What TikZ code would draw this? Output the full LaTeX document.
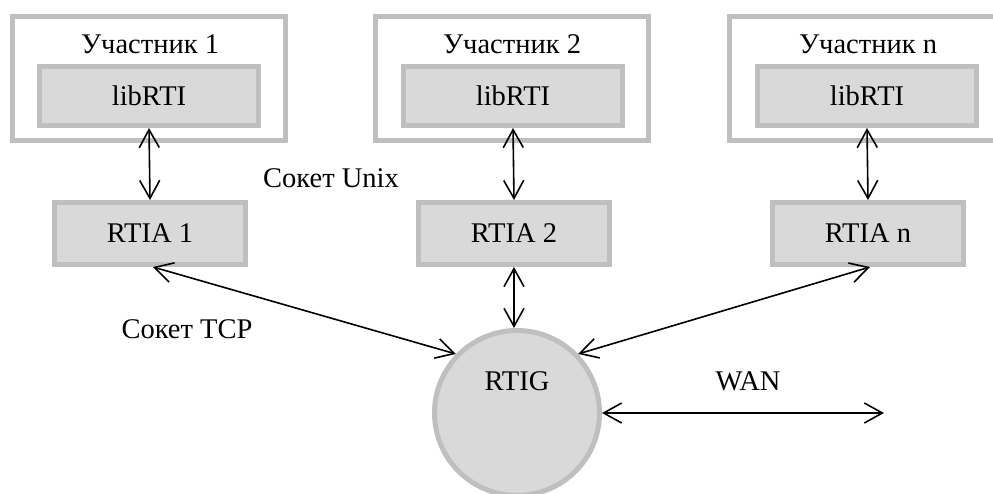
\documentclass[tikz,border=0pt]{standalone}
\usepackage{fontspec}
\setmainfont{Liberation Serif}
\newfontfamily\timesfont{Liberation Serif}
\usetikzlibrary{arrows.meta}
\definecolor{bordergray}{HTML}{BFBFBF}
\definecolor{fillgray}{HTML}{D9D9D9}
\begin{document}
\begin{tikzpicture}[x=1pt,y=-1pt,
  every node/.style={font=\timesfont\fontsize{28.5}{34}\selectfont},
  outerbox/.style={draw=bordergray, line width=5pt, minimum width=273pt, minimum height=124.5pt, inner sep=0pt},
  libbox/.style={draw=bordergray, fill=fillgray, line width=5pt, minimum width=219pt, minimum height=59pt, inner sep=0pt},
  rtiabox/.style={draw=bordergray, fill=fillgray, line width=5pt, minimum width=191pt, minimum height=62pt, inner sep=0pt},
  hubcircle/.style={circle, draw=bordergray, fill=fillgray, line width=5pt, minimum size=165pt, inner sep=0pt},
  link/.style={line width=1.6pt, {Straight Barb[length=18pt,width=20pt]}-{Straight Barb[length=18pt,width=20pt]}},
  lbl/.style={anchor=base, inner sep=0pt}]
\clip (0,0) rectangle (993,493);
\fill[white] (0,0) rectangle (993,493);
% outer participant boxes
\node[outerbox] (p1) at (148.5,78.25) {};
\node[outerbox] (p2) at (512,78.25) {};
\node[outerbox] (p3) at (866,78.25) {};
\node[lbl] (p1t) at (150,53) {Участник 1};
\node[lbl] (p2t) at (512,53) {Участник 2};
\node[lbl] (p3t) at (868,53) {Участник n};
% libRTI boxes
\node[libbox] (lib1) at (149,96) {libRTI};
\node[libbox] (lib2) at (513,96) {libRTI};
\node[libbox] (lib3) at (867,96) {libRTI};
% RTIA boxes
\node[rtiabox] (rtia1) at (150,233.5) {RTIA 1};
\node[rtiabox] (rtia2) at (514,233.5) {RTIA 2};
\node[rtiabox] (rtia3) at (868,233.5) {RTIA n};
% RTIG
\node[hubcircle] (rtig) at (517,413) {};
\node[lbl] (rtigt) at (517,390) {RTIG};
\coordinate (wanend) at (884,413);
% labels
\node[lbl] (unix) at (331,187) {Сокет Unix};
\node[lbl] (tcp) at (187,338) {Сокет TCP};
\node[lbl] (wan) at (748,390) {WAN};
% connectors
\draw[link] (lib1.south) -- (rtia1.north);
\draw[link] (lib2.south) -- (rtia2.north);
\draw[link] (lib3.south) -- (rtia3.north);
\draw[link] ([xshift=3pt]rtia1.south) -- (rtig.136);
\draw[link] (rtia2.south) -- (rtia2.south |- rtig.north);
\draw[link] ([xshift=2pt]rtia3.south) -- (rtig.44);
\draw[link] (rtig.east) -- (wanend);
\end{tikzpicture}
\end{document}
